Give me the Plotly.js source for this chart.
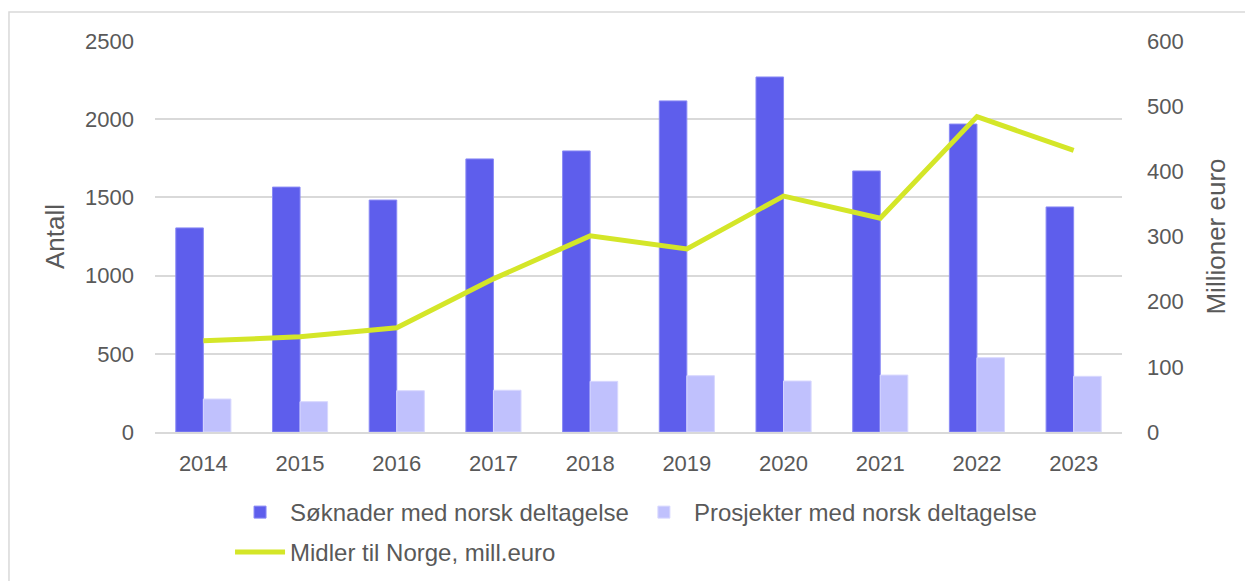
<!DOCTYPE html>
<html>
<head>
<meta charset="utf-8">
<script src="https://cdn.plot.ly/plotly-3.0.1.min.js"></script>
<style>
  body { margin: 0; background: #fff; }
  #chart { width: 1245px; height: 581px; }
</style>
</head>
<body>
<div id="chart"></div>
<script>
var years = ['2014', '2015', '2016', '2017', '2018', '2019', '2020', '2021', '2022', '2023'];
var soknader = [1305, 1566, 1483, 1746, 1797, 2117, 2270, 1669, 1969, 1439];
var prosjekter = [211, 194, 264, 267, 324, 360, 326, 364, 475, 356];
var midler = [140, 146, 160, 235, 301, 281, 362, 328, 484, 432];

var fontFam = 'Liberation Sans, Arial, sans-serif';
var grey = '#595959';

var trace1 = {
  x: years,
  y: soknader,
  name: 'Søknader med norsk deltagelse',
  type: 'bar',
  marker: {color: '#5e5eec', line: {color: '#8a8af5', width: 1}},
  legend: 'legend'
};

var trace2 = {
  x: years,
  y: prosjekter,
  name: 'Prosjekter med norsk deltagelse',
  type: 'bar',
  marker: {color: '#c0c1fd', line: {color: '#d8d8fe', width: 1}},
  legend: 'legend'
};

var trace3 = {
  x: years,
  y: midler,
  name: 'Midler til Norge, mill.euro',
  type: 'scatter',
  mode: 'lines',
  yaxis: 'y2',
  line: {color: '#d4e628', width: 5},
  legend: 'legend2'
};

var data = [trace1, trace2, trace3];

var layout = {
  width: 1245,
  height: 581,
  margin: {l: 155, r: 123, t: 41, b: 149},
  paper_bgcolor: '#fff',
  plot_bgcolor: '#fff',
  font: {family: fontFam, size: 22, color: grey},
  barmode: 'group',
  bargap: 0.43,
  bargroupgap: 0,
  showlegend: true,
  xaxis: {
    type: 'category',
    showgrid: false,
    showline: true,
    linecolor: '#d9d9d9',
    linewidth: 2,
    ticks: '',
    ticklabelstandoff: 11,
    tickfont: {size: 22, color: grey}
  },
  yaxis: {
    range: [0, 2500],
    dtick: 500,
    showgrid: true,
    gridcolor: '#d9d9d9',
    gridwidth: 1.5,
    zeroline: false,
    ticks: '',
    ticklabelstandoff: 20,
    tickfont: {size: 22, color: grey},
    title: {text: 'Antall', font: {size: 26, color: grey}, standoff: 12}
  },
  yaxis2: {
    overlaying: 'y',
    side: 'right',
    range: [0, 600],
    dtick: 100,
    showgrid: false,
    zeroline: false,
    ticks: '',
    ticklabelstandoff: 24,
    tickfont: {size: 22, color: grey},
    title: {text: 'Millioner euro', font: {size: 26, color: grey}, standoff: 24}
  },
  legend: {
    orientation: 'h',
    x: 0.0776,
    xanchor: 'left',
    yref: 'container',
    y: 0.1566,
    yanchor: 'top',
    font: {size: 24, color: grey},
    itemwidth: 50
  },
  legend2: {
    orientation: 'h',
    x: 0.0776,
    xanchor: 'left',
    yref: 'container',
    y: 0.0878,
    yanchor: 'top',
    font: {size: 24, color: grey},
    itemwidth: 50
  },
  shapes: [{
    type: 'rect',
    xref: 'paper',
    yref: 'paper',
    x0: -0.151,
    x1: 1.3,
    y0: -0.5,
    y1: 1.074,
    line: {color: '#d9d9d9', width: 1.5},
    layer: 'below'
  }]
};

Plotly.newPlot('chart', data, layout, {displayModeBar: false});
</script>
</body>
</html>
